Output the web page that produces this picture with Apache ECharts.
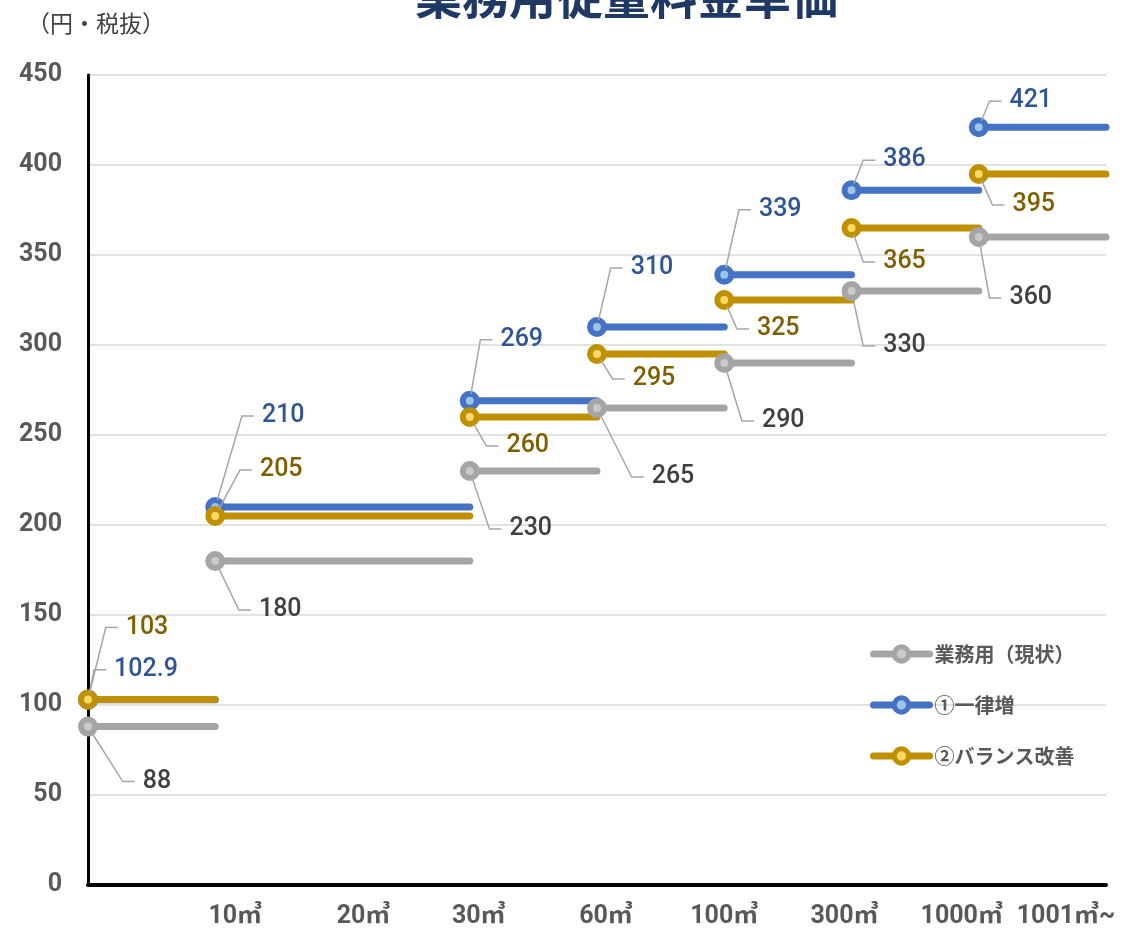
<!DOCTYPE html>
<html>
<head>
<meta charset="utf-8">
<title>業務用従量料金単価</title>
<script src="https://cdn.jsdelivr.net/npm/echarts@6/dist/echarts.min.js"></script>
<style>
  html, body { margin: 0; padding: 0; background: #ffffff; }
  #chart { width: 1126px; height: 934px; }
</style>
</head>
<body>
<div id="chart"></div>
<script>
// Usage tiers on the horizontal axis (tick 0 is the origin, no label)
const tierLabels = ['', '10㎥', '20㎥', '30㎥', '60㎥', '100㎥', '300㎥', '1000㎥', '1001㎥~'];

// Each price step runs from segStart to segEnd (tier tick indices)
const segStart = [0, 1, 3, 4, 5, 6, 7];
const segEnd   = [1, 3, 4, 5, 6, 7, 8];

// Unit prices (円・税抜) per step
const currentPrice  = [88, 180, 230, 265, 290, 330, 360];      // 業務用（現状）
const uniformPrice  = [102.9, 210, 269, 310, 339, 386, 421];   // ①一律増
const balancedPrice = [103, 205, 260, 295, 325, 365, 395];     // ②バランス改善

// Y axis range
const yMin = 0, yMax = 450, yStep = 50;

// --- styling -----------------------------------------------------------
const NUM_FONT = 'Roboto, "Noto Sans CJK JP", sans-serif';
const JP_FONT = '"Noto Sans CJK JP", "Noto Sans", sans-serif';

// callout offsets (px from the marker to the label centre)
const calloutGray = [[69, 55], [65, 49], [61, 58], [76, 69], [59, 58], [53, 55], [52, 61]];
const calloutBlue = [[58, -30], [68, -91], [52, -61], [55, -59], [56, -65], [53, -30], [52, -26]];
const calloutGold = [[59, -72], [66, -46], [58, 29], [57, 25], [54, 29], [53, 34], [55, 31]];

// horizontal nudges for the tier labels (px)
const tierNudge = [0, 20, 21, 9, 9, 0, -7, -17, -40];

// wide (invisible) right padding keeps the callout leader on the label's left side
const PAD_L = 8, PAD_R = 120;

// Build a broken step line: marker at step start, plain end point, then a gap
function stepData(values) {
  const out = [];
  values.forEach((v, i) => {
    out.push({ value: [segStart[i], v] });
    out.push({ value: [segEnd[i], v], symbol: 'none', label: { show: false } });
    out.push({ value: [segEnd[i], '-'] });
  });
  return out;
}

function makeSeries(name, values, ring, inner, labelColor, offsets) {
  return {
    name: name,
    type: 'line',
    data: stepData(values),
    symbol: 'circle',
    symbolSize: 14,
    showSymbol: true,
    showAllSymbol: true,
    connectNulls: false,
    clip: false,
    itemStyle: { color: inner, borderColor: ring, borderWidth: 6 },
    lineStyle: { color: ring, width: 7, cap: 'round' },
    emphasis: { disabled: true },
    label: {
      show: true,
      position: 'inside',
      color: labelColor,
      fontFamily: NUM_FONT,
      fontSize: 25,
      fontWeight: 500,
      backgroundColor: 'rgba(255,255,255,0)',
      padding: [0, PAD_R, 0, PAD_L],
      formatter: p => String(p.value[1])
    },
    labelLine: {
      show: true,
      showAbove: true,
      length2: 12,
      minTurnAngle: 60,
      lineStyle: { color: '#A6A6A6', width: 1.5 }
    },
    labelLayout: function (p) {
      const k = Math.floor(p.dataIndex / 3);
      const o = offsets[k] || [0, 0];
      return { dx: o[0] - (PAD_L - PAD_R) / 2, dy: o[1] };
    }
  };
}

const chart = echarts.init(document.getElementById('chart'), null, { renderer: 'canvas' });

const option = {
  animation: false,
  backgroundColor: '#ffffff',
  title: [
    {
      text: '業務用従量料金単価',
      left: 410,
      top: -32,
      textStyle: { fontFamily: JP_FONT, fontSize: 47, fontWeight: 'bold', color: '#203864' }
    },
    {
      text: '（円・税抜）',
      left: 22,
      top: 7,
      textStyle: { fontFamily: JP_FONT, fontSize: 23, fontWeight: 'normal', color: '#404040' }
    }
  ],
  legend: {
    orient: 'vertical',
    left: 865,
    top: 639,
    itemWidth: 56,
    itemHeight: 18,
    itemGap: 31,
    selectedMode: false,
    lineStyle: { width: 7 },
    itemStyle: { borderWidth: 5 },
    textStyle: { fontFamily: JP_FONT, fontSize: 20, fontWeight: 'bold', color: '#595959' },
    data: ['業務用（現状）', '①一律増', '②バランス改善']
  },
  grid: { left: 88, right: 20, top: 75, bottom: 49, containLabel: false },
  xAxis: {
    type: 'value',
    min: 0,
    max: tierLabels.length - 1,
    interval: 1,
    axisLine: { show: true, onZero: false, lineStyle: { color: '#000000', width: 4 } },
    axisTick: { show: false },
    splitLine: { show: false },
    axisLabel: {
      margin: 19,
      showMaxLabel: true,
      fontFamily: NUM_FONT,
      fontSize: 25,
      fontWeight: 'bold',
      color: '#595959',
      formatter: function (v) {
        const i = Math.round(v);
        const t = tierLabels[i] || '';
        if (!t) return '';
        const n = tierNudge[i] || 0;
        return n >= 0 ? '{r' + i + '|' + t + '}' : '{l' + i + '|' + t + '}';
      },
      rich: (function () {
        const r = {};
        tierNudge.forEach((n, i) => {
          const base = { fontFamily: NUM_FONT, fontSize: 25, fontWeight: 'bold', color: '#595959' };
          r['r' + i] = Object.assign({}, base, { padding: [0, 0, 0, Math.max(0, 2 * n)] });
          r['l' + i] = Object.assign({}, base, { padding: [0, Math.max(0, -2 * n), 0, 0] });
        });
        return r;
      })()
    }
  },
  yAxis: {
    type: 'value',
    min: yMin,
    max: yMax,
    interval: yStep,
    axisLine: { show: true, lineStyle: { color: '#000000', width: 3 } },
    axisTick: { show: false },
    splitLine: { show: true, lineStyle: { color: '#D9D9D9', width: 1.5 } },
    axisLabel: {
      margin: 26,
      fontFamily: NUM_FONT,
      fontSize: 25,
      fontWeight: 'bold',
      color: '#595959'
    }
  },
  series: [
    makeSeries('業務用（現状）', currentPrice, '#A5A5A5', '#C9C9C9', '#404040', calloutGray),
    makeSeries('①一律増', uniformPrice, '#4472C4', '#9DC3E6', '#2F5597', calloutBlue),
    makeSeries('②バランス改善', balancedPrice, '#BF9000', '#FFD966', '#7F6000', calloutGold)
  ]
};

chart.setOption(option);
</script>
</body>
</html>
